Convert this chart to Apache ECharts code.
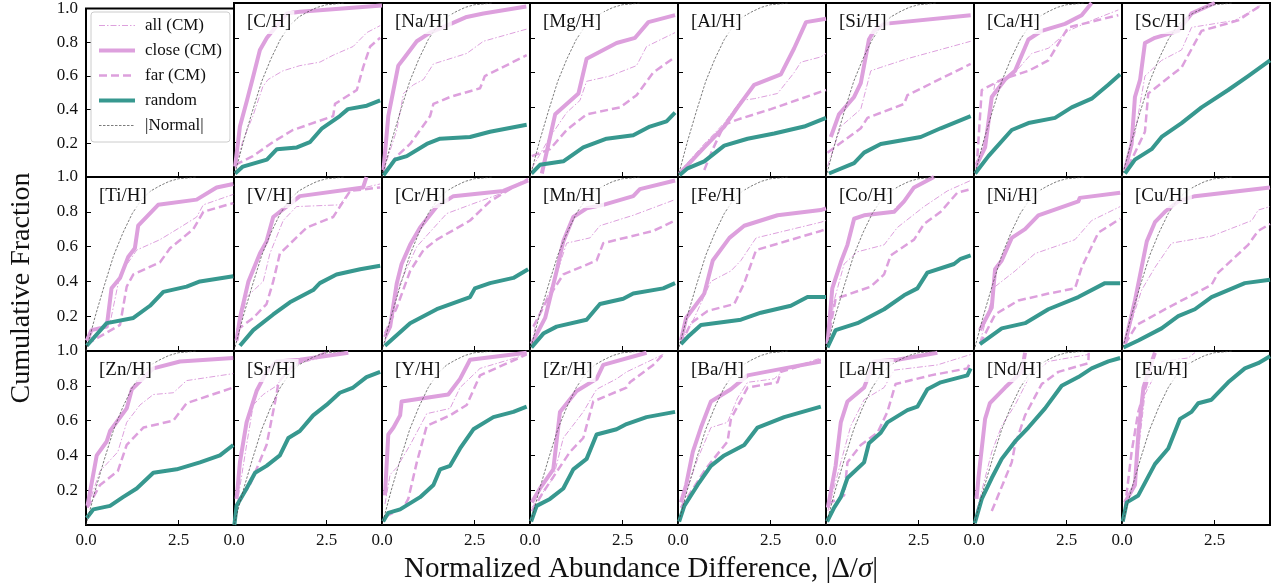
<!DOCTYPE html>
<html><head><meta charset="utf-8">
<script src="https://cdn.jsdelivr.net/npm/echarts@6/dist/echarts.min.js"></script>
<style>html,body{margin:0;padding:0;background:#fff}#c{width:1282px;height:588px}</style>
</head><body><div id="c"></div>
<script>
// ---------- DATA ----------
const ELEMENTS = ['C','Na','Mg','Al','Si','Ca','Sc','Ti','V','Cr','Mn','Fe','Co','Ni','Cu','Zn','Sr','Y','Zr','Ba','La','Nd','Eu'];
const X_TICKS = [0.0, 2.5];
const Y_TICKS = [0.2, 0.4, 0.6, 0.8, 1.0];
const SERIES_NAMES = ['all (CM)', 'close (CM)', 'far (CM)', 'random', '|Normal|'];

// |Normal| reference curve (same in every panel)
const NORMAL = [[0,0],[0.25,0.2],[0.5,0.38],[0.75,0.55],[1.0,0.68],[1.25,0.79],[1.5,0.87],[1.75,0.92],[2.0,0.95],[2.25,0.975],[2.5,0.99],[3.0,1.0]];

// all (CM), one list per element (same order as ELEMENTS)
const ALL_CM = [
 [[0.03,0.05],[0.24,0.21],[0.51,0.35],[0.78,0.52],[0.92,0.56],[1.32,0.61],[1.78,0.64],[2.32,0.66],[2.68,0.70],[3.22,0.75],[3.59,0.83],[3.95,0.87]], // C
 [[0.03,0.03],[0.40,0.27],[0.58,0.48],[0.85,0.53],[1.12,0.56],[1.39,0.65],[2.29,0.71],[2.74,0.78],[3.91,0.85]], // Na
 [[0.05,0.05],[0.54,0.23],[0.99,0.37],[1.35,0.44],[1.53,0.55],[2.16,0.58],[2.88,0.64],[3.15,0.75],[3.92,0.83]], // Mg
 [[0.04,0.03],[0.71,0.19],[1.25,0.31],[1.70,0.44],[2.06,0.45],[2.69,0.48],[3.14,0.60],[3.32,0.66],[3.86,0.69],[4.0,0.71]], // Al
 [[0.04,0.06],[0.40,0.29],[0.94,0.39],[1.21,0.61],[1.48,0.63],[2.20,0.68],[3.91,0.78]], // Si
 [[0.07,0.05],[0.30,0.23],[0.57,0.54],[1.02,0.58],[1.56,0.71],[2.01,0.74],[2.55,0.84],[3.18,0.90],[3.90,0.96]], // Ca
 [[0.08,0.04],[0.35,0.25],[0.62,0.58],[1.07,0.67],[1.61,0.73],[1.88,0.86],[3.05,0.90],[3.78,0.99]], // Sc
 [[0.02,0.06],[0.65,0.16],[0.92,0.44],[1.37,0.58],[2.0,0.64],[2.54,0.71],[2.99,0.77],[3.17,0.84],[3.98,0.90]], // Ti
 [[0.07,0.05],[0.34,0.31],[0.79,0.40],[0.97,0.56],[1.33,0.75],[1.69,0.83],[2.86,0.84],[3.14,0.92],[3.95,0.96]], // V
 [[0.08,0.05],[0.49,0.39],[0.94,0.60],[1.75,0.79],[2.38,0.84],[3.28,0.91],[3.95,0.98]], // Cr
 [[0.04,0.04],[0.18,0.17],[0.72,0.44],[0.99,0.62],[1.62,0.65],[1.89,0.72],[2.79,0.78],[3.92,0.87]], // Mn
 [[0.08,0.05],[0.44,0.19],[0.89,0.40],[1.43,0.46],[1.70,0.52],[2.11,0.65],[3.86,0.74],[4.0,0.75]], // Fe
 [[0.04,0.04],[0.22,0.29],[0.49,0.50],[0.85,0.57],[1.57,0.61],[1.93,0.71],[2.65,0.83],[3.28,0.92],[3.91,0.98]], // Co
 [[0.16,0.05],[0.57,0.37],[1.11,0.46],[1.65,0.56],[2.73,0.64],[3.18,0.75],[3.95,0.83]], // Ni
 [[0.08,0.05],[0.53,0.35],[0.89,0.48],[1.34,0.62],[2.42,0.66],[3.51,0.75],[3.68,0.81],[4.0,0.83]], // Cu
 [[0.04,0.10],[0.38,0.31],[0.86,0.42],[1.10,0.59],[1.46,0.69],[1.82,0.75],[2.36,0.76],[2.72,0.83],[3.98,0.87]], // Zn
 [[0.07,0.10],[0.34,0.46],[0.52,0.69],[0.79,0.75],[1.15,0.80],[1.42,0.88],[1.78,0.93],[2.68,0.98]], // Sr
 [[0.08,0.12],[0.22,0.29],[0.40,0.33],[0.76,0.46],[1.21,0.64],[1.84,0.67],[2.11,0.79],[2.65,0.90],[3.91,0.98]], // Y
 [[0.05,0.10],[0.63,0.27],[0.90,0.50],[1.44,0.65],[1.80,0.78],[2.34,0.84],[2.61,0.88],[3.60,0.98]], // Zr
 [[0.08,0.10],[0.53,0.38],[0.89,0.56],[1.34,0.59],[1.61,0.73],[1.88,0.82],[2.60,0.84],[2.87,0.89],[3.86,0.96]], // Ba
 [[0.05,0.08],[0.40,0.36],[0.67,0.57],[1.03,0.72],[1.57,0.79],[1.84,0.89],[3.01,0.92],[3.91,0.98]], // La
 [[0.07,0.08],[0.48,0.42],[0.75,0.57],[1.11,0.69],[1.47,0.84],[2.01,0.94],[3.09,0.98]], // Nd
 [[0.08,0.10],[0.35,0.27],[0.44,0.42],[0.62,0.75],[1.07,0.94],[1.79,0.96],[1.97,0.99]] // Eu
];

// close (CM)
const CLOSE_CM = [
 [[0.03,0.06],[0.16,0.29],[0.35,0.44],[0.51,0.57],[0.70,0.73],[0.89,0.80],[1.43,0.94],[1.78,0.95],[4.0,0.985]], // C
 [[0.04,0.04],[0.17,0.35],[0.44,0.64],[0.62,0.69],[0.94,0.78],[1.30,0.83],[1.75,0.87],[2.29,0.92],[2.74,0.94],[3.90,0.98]], // Na
 [[0.32,0.02],[0.68,0.36],[1.31,0.48],[1.53,0.68],[2.34,0.77],[2.84,0.80],[3.20,0.89],[3.92,0.93]], // Mg
 [[0.04,0.02],[0.71,0.17],[1.25,0.29],[1.61,0.40],[2.06,0.53],[2.78,0.59],[3.14,0.74],[3.46,0.89],[4.0,0.91]], // Al
 [[0.13,0.23],[0.35,0.36],[0.76,0.46],[0.94,0.54],[1.16,0.79],[1.30,0.84],[1.57,0.88],[3.91,0.93]], // Si
 [[0.07,0.07],[0.30,0.17],[0.48,0.46],[0.84,0.56],[1.11,0.61],[1.47,0.79],[1.83,0.84],[2.46,0.88],[2.91,0.93],[3.18,1.0]], // Ca
 [[0.08,0.04],[0.26,0.19],[0.35,0.46],[0.49,0.56],[0.62,0.77],[0.89,0.80],[1.52,0.84],[1.88,0.94],[2.51,1.0]], // Sc
 [[0.02,0.06],[0.15,0.12],[0.56,0.14],[0.69,0.36],[0.92,0.42],[1.14,0.54],[1.32,0.59],[1.41,0.72],[1.95,0.84],[2.99,0.87],[3.53,0.94],[3.98,0.96]], // Ti
 [[0.07,0.06],[0.16,0.19],[0.39,0.40],[0.70,0.56],[0.88,0.63],[1.06,0.77],[1.42,0.83],[1.78,0.89],[3.49,0.94],[3.58,1.0]], // V
 [[0.08,0.08],[0.22,0.14],[0.40,0.39],[0.53,0.50],[0.76,0.61],[1.03,0.71],[1.48,0.83],[1.93,0.89],[3.28,0.92],[3.95,0.98]], // Cr
 [[0.04,0.04],[0.41,0.19],[0.72,0.46],[0.90,0.63],[1.17,0.77],[1.53,0.82],[1.98,0.84],[2.79,0.89],[2.97,0.93],[3.92,0.98]], // Mn
 [[0.08,0.06],[0.22,0.19],[0.71,0.33],[0.94,0.52],[1.39,0.65],[1.79,0.72],[2.69,0.78],[3.86,0.81],[4.0,0.82]], // Fe
 [[0.04,0.04],[0.17,0.36],[0.40,0.51],[0.58,0.61],[0.76,0.76],[1.03,0.78],[1.84,0.80],[2.11,0.86],[2.38,0.94],[2.92,1.0]], // Co
 [[0.16,0.12],[0.48,0.25],[0.57,0.47],[0.75,0.52],[1.02,0.65],[1.38,0.70],[1.74,0.78],[2.82,0.86],[2.86,0.88],[3.95,0.91]], // Ni
 [[0.08,0.04],[0.35,0.29],[0.67,0.63],[0.89,0.74],[1.16,0.80],[1.52,0.86],[1.97,0.89],[4.0,0.94]], // Cu
 [[0.04,0.11],[0.29,0.40],[0.56,0.48],[0.65,0.54],[1.10,0.67],[1.24,0.78],[1.82,0.90],[2.54,0.94],[3.98,0.96]], // Zn
 [[0.07,0.15],[0.16,0.36],[0.34,0.59],[0.61,0.77],[0.88,0.88],[1.15,0.94],[1.78,0.95],[3.09,0.99]], // Sr
 [[0.08,0.17],[0.17,0.52],[0.31,0.56],[0.49,0.63],[0.53,0.71],[1.79,0.75],[2.11,0.84],[2.38,0.95],[3.91,0.99]], // Y
 [[0.05,0.13],[0.27,0.21],[0.63,0.32],[0.81,0.65],[1.26,0.77],[1.80,0.84],[1.98,0.92],[3.15,0.99]], // Zr
 [[0.08,0.13],[0.22,0.23],[0.40,0.42],[0.62,0.56],[0.89,0.71],[1.43,0.78],[1.88,0.86],[2.87,0.90],[3.86,0.94]], // Ba
 [[0.05,0.10],[0.26,0.34],[0.40,0.59],[0.58,0.71],[1.03,0.79],[1.30,0.94],[1.93,0.95],[3.01,0.99]], // La
 [[0.07,0.15],[0.12,0.27],[0.30,0.61],[0.43,0.70],[0.84,0.79],[1.29,0.88],[1.38,0.99]], // Nd
 [[0.08,0.13],[0.35,0.23],[0.44,0.52],[0.58,0.79],[0.71,0.88],[0.89,0.99]] // Eu
];

// far (CM)
const FAR_CM = [
 [[0.03,0.07],[0.51,0.12],[1.05,0.20],[1.59,0.27],[2.68,0.35],[2.73,0.42],[3.32,0.50],[3.49,0.63],[3.68,0.75],[3.95,0.80]], // C
 [[0.05,0.02],[0.40,0.12],[0.76,0.19],[1.30,0.35],[1.39,0.42],[1.84,0.46],[2.65,0.51],[2.78,0.58],[3.91,0.70]], // Na
 [[0.05,0.12],[0.54,0.16],[0.99,0.27],[1.53,0.36],[2.43,0.40],[2.88,0.47],[3.33,0.60],[3.92,0.69]], // Mg
 [[0.71,0.04],[0.94,0.16],[1.25,0.30],[1.61,0.33],[2.51,0.39],[4.0,0.50]], // Al
 [[0.04,0.14],[0.49,0.21],[0.94,0.28],[1.12,0.34],[2.11,0.42],[2.20,0.47],[3.91,0.65]], // Si
 [[0.07,0.05],[0.21,0.50],[0.75,0.56],[1.47,0.61],[2.01,0.67],[2.46,0.83],[2.55,0.86],[3.90,0.93]], // Ca
 [[0.17,0.06],[0.62,0.26],[0.71,0.48],[1.07,0.54],[1.61,0.63],[2.15,0.84],[3.14,0.90],[3.78,0.99]], // Sc
 [[0.02,0.04],[0.92,0.15],[1.10,0.37],[1.28,0.44],[2.0,0.51],[2.27,0.59],[2.90,0.70],[3.17,0.80],[3.98,0.85]], // Ti
 [[0.07,0.12],[0.52,0.19],[0.88,0.27],[1.06,0.40],[1.24,0.56],[1.97,0.71],[2.68,0.77],[3.14,0.92],[3.95,0.94]], // V
 [[0.08,0.10],[0.40,0.25],[0.76,0.46],[1.12,0.58],[1.48,0.64],[2.38,0.75],[2.92,0.86],[3.46,0.93],[3.95,0.99]], // Cr
 [[0.09,0.14],[0.45,0.29],[0.90,0.44],[1.80,0.52],[1.98,0.62],[3.33,0.69],[3.92,0.75]], // Mn
 [[0.08,0.04],[0.35,0.16],[0.80,0.23],[1.52,0.27],[1.79,0.39],[2.11,0.58],[3.86,0.69],[4.0,0.70]], // Fe
 [[0.04,0.05],[0.26,0.30],[1.21,0.37],[1.57,0.44],[1.75,0.55],[2.38,0.64],[2.65,0.73],[3.10,0.80],[3.55,0.91],[3.91,0.93]], // Co
 [[0.16,0.04],[0.57,0.21],[1.20,0.29],[2.01,0.33],[2.73,0.36],[2.91,0.48],[3.36,0.68],[3.95,0.76]], // Ni
 [[0.08,0.04],[0.40,0.15],[1.25,0.25],[2.42,0.38],[2.60,0.45],[3.41,0.61],[3.68,0.69],[4.0,0.73]], // Cu
 [[0.04,0.10],[0.38,0.23],[0.86,0.31],[1.10,0.46],[1.55,0.56],[2.36,0.60],[2.72,0.70],[3.98,0.79]], // Zn
 [[0.07,0.12],[0.43,0.23],[0.88,0.46],[1.15,0.75],[1.20,0.82],[1.60,0.92],[2.60,1.0]], // Sr
 [[0.10,0.05],[0.58,0.10],[0.71,0.15],[0.94,0.36],[1.21,0.57],[1.84,0.63],[2.29,0.69],[2.65,0.86],[3.91,0.98]], // Y
 [[0.05,0.08],[0.36,0.19],[1.08,0.42],[1.44,0.50],[1.71,0.71],[2.61,0.79],[2.70,0.82],[3.33,0.92],[3.60,0.98]], // Zr
 [[0.08,0.10],[0.71,0.31],[0.89,0.36],[1.34,0.48],[1.43,0.61],[1.88,0.79],[2.69,0.82],[2.78,0.88],[3.86,0.95]], // Ba
 [[0.05,0.12],[0.49,0.17],[0.58,0.36],[0.94,0.46],[1.39,0.53],[1.66,0.65],[1.88,0.81],[2.83,0.86],[3.82,0.90],[3.91,0.94]], // La
 [[0.48,0.08],[1.02,0.36],[1.11,0.46],[1.38,0.63],[1.83,0.81],[2.28,0.88],[3.09,0.93],[3.10,0.99]], // Nd
 [[0.08,0.10],[0.26,0.42],[0.44,0.65],[0.71,0.84],[0.89,0.99]] // Eu
];

// random
const RANDOM = [
 [[0.03,0.02],[0.24,0.06],[0.89,0.10],[1.16,0.16],[1.70,0.17],[2.05,0.20],[2.38,0.28],[2.86,0.35],[3.08,0.39],[3.59,0.41],[3.95,0.44]], // C
 [[0.04,0.01],[0.35,0.10],[0.67,0.12],[1.21,0.19],[1.57,0.22],[2.38,0.23],[2.92,0.26],[3.91,0.30]], // Na
 [[0.04,0.02],[0.27,0.07],[0.90,0.09],[1.44,0.17],[2.07,0.22],[2.79,0.24],[3.24,0.29],[3.69,0.32],[3.92,0.37]], // Mg
 [[0.04,0.01],[0.26,0.05],[0.71,0.09],[1.25,0.18],[1.88,0.22],[2.60,0.25],[3.41,0.29],[4.0,0.34]], // Al
 [[0.08,0.02],[0.76,0.08],[1.03,0.14],[1.48,0.19],[2.02,0.21],[2.56,0.23],[3.10,0.28],[3.91,0.35]], // Si
 [[0.03,0.02],[0.39,0.12],[1.02,0.27],[1.47,0.31],[2.19,0.34],[2.64,0.40],[3.18,0.45],[3.63,0.53],[3.95,0.59]], // Ca
 [[0.08,0.02],[0.35,0.10],[0.80,0.16],[1.07,0.23],[1.61,0.31],[2.15,0.40],[2.87,0.50],[3.41,0.58],[4.0,0.67]], // Sc
 [[0.02,0.03],[0.56,0.16],[1.28,0.19],[1.73,0.26],[2.09,0.34],[2.72,0.37],[3.08,0.40],[3.98,0.43]], // Ti
 [[0.16,0.03],[0.52,0.12],[1.06,0.21],[1.51,0.28],[2.14,0.35],[2.32,0.39],[2.77,0.44],[3.41,0.47],[3.95,0.49]], // V
 [[0.08,0.03],[0.76,0.16],[1.48,0.24],[2.38,0.31],[2.51,0.36],[2.92,0.39],[3.55,0.42],[3.95,0.47]], // Cr
 [[0.04,0.02],[0.36,0.10],[0.72,0.14],[1.53,0.18],[1.89,0.27],[2.52,0.30],[2.79,0.33],[3.60,0.36],[3.92,0.39]], // Mn
 [[0.08,0.04],[0.26,0.08],[0.62,0.15],[1.70,0.18],[2.24,0.22],[3.05,0.26],[3.50,0.31],[4.0,0.31]], // Fe
 [[0.04,0.02],[0.26,0.12],[0.85,0.16],[1.57,0.24],[2.11,0.32],[2.47,0.36],[2.74,0.45],[3.46,0.50],[3.64,0.53],[3.91,0.55]], // Co
 [[0.16,0.04],[0.75,0.13],[1.38,0.16],[2.01,0.24],[2.82,0.31],[3.54,0.39],[3.95,0.39]], // Ni
 [[0.04,0.02],[0.44,0.06],[1.07,0.13],[1.52,0.20],[1.97,0.24],[2.42,0.31],[2.87,0.35],[3.32,0.39],[4.0,0.41]], // Cu
 [[0.02,0.04],[0.20,0.09],[0.65,0.11],[1.0,0.16],[1.37,0.21],[1.82,0.30],[2.45,0.32],[3.08,0.36],[3.62,0.40],[3.98,0.46]], // Zn
 [[0.01,0.0],[0.07,0.11],[0.34,0.21],[0.57,0.30],[0.88,0.34],[1.24,0.40],[1.47,0.50],[1.78,0.54],[2.14,0.63],[2.50,0.69],[2.86,0.76],[3.22,0.79],[3.58,0.85],[3.95,0.88]], // Sr
 [[0.03,0.02],[0.17,0.07],[0.49,0.09],[1.03,0.16],[1.39,0.23],[1.57,0.32],[1.84,0.34],[2.11,0.44],[2.47,0.55],[3.01,0.62],[3.55,0.65],[3.91,0.68]], // Y
 [[0.03,0.02],[0.18,0.11],[0.54,0.15],[0.90,0.21],[1.17,0.32],[1.53,0.38],[1.80,0.52],[2.34,0.55],[2.61,0.58],[3.15,0.62],[3.92,0.65]], // Zr
 [[0.03,0.02],[0.17,0.11],[0.53,0.23],[0.89,0.34],[1.25,0.40],[1.79,0.46],[2.15,0.56],[2.87,0.62],[3.86,0.68]], // Ba
 [[0.03,0.02],[0.22,0.10],[0.40,0.16],[0.58,0.27],[1.03,0.36],[1.16,0.47],[1.48,0.53],[1.66,0.59],[2.20,0.66],[2.47,0.68],[2.74,0.78],[3.10,0.82],[3.82,0.86],[3.91,0.90]], // La
 [[0.02,0.01],[0.21,0.15],[0.48,0.27],[0.75,0.38],[1.11,0.48],[1.47,0.56],[1.92,0.67],[2.37,0.80],[2.82,0.85],[3.18,0.90],[3.63,0.94],[3.95,0.96]], // Nd
 [[0.02,0.02],[0.13,0.13],[0.44,0.17],[0.89,0.35],[1.25,0.44],[1.57,0.61],[1.88,0.65],[2.06,0.70],[2.42,0.72],[2.87,0.82],[3.32,0.90],[3.68,0.93],[4.0,0.97]] // Eu
];

// ---------- LAYOUT / STYLE ----------
const FONT = 'Liberation Serif, DejaVu Serif, serif';
const PINK = '#DDA0DD', TEAL = '#37988F', NORM_C = '#444';
const NCOL = 8, NROW = 3, GL = 86, GT = 3, GW = 148, GH = 174;
const STYLES = [
  {color: PINK, width: 1, type: [6, 2, 1.5, 2]},
  {color: PINK, width: 4, type: 'solid'},
  {color: PINK, width: 2.5, type: [8, 4]},
  {color: TEAL, width: 4, type: 'solid'},
  {color: NORM_C, width: 0.7, type: [2.5, 1.5]}
];

const grids = [], xAxes = [], yAxes = [], series = [], titles = [];
for (let i = 0; i < NCOL * NROW; i++) {
  const r = Math.floor(i / NCOL), c = i % NCOL;
  grids.push({left: GL + c * GW, top: GT + r * GH, width: GW, height: GH,
    show: true, borderColor: '#000', borderWidth: 2, backgroundColor: 'transparent'});
  xAxes.push({type: 'value', gridIndex: i, min: 0, max: 4, interval: 2.5,
    axisLine: {show: false}, splitLine: {show: false},
    axisTick: {show: true, inside: true, length: 5, lineStyle: {color: '#000', width: 1}},
    axisLabel: {show: r === NROW - 1, color: '#111', fontFamily: FONT, fontSize: 17, margin: 7,
      formatter: v => X_TICKS.indexOf(v) >= 0 ? v.toFixed(1) : ''}});
  yAxes.push({type: 'value', gridIndex: i, min: 0, max: 1, interval: 0.2,
    axisLine: {show: false}, splitLine: {show: false},
    axisTick: {show: true, inside: true, length: 5, lineStyle: {color: '#000', width: 1}},
    axisLabel: {show: c === 0, color: '#111', fontFamily: FONT, fontSize: 17, margin: 8,
      formatter: v => Y_TICKS.some(t => Math.abs(t - v) < 1e-9) ? v.toFixed(1) : ''}});
  if (i === 0) continue;
  const e = i - 1;
  const lists = [ALL_CM[e], CLOSE_CM[e], FAR_CM[e], RANDOM[e], NORMAL];
  lists.forEach((d, k) => {
    series.push({type: 'line', name: SERIES_NAMES[k], xAxisIndex: i, yAxisIndex: i,
      data: d, showSymbol: false, symbol: 'none', clip: false, silent: true,
      lineStyle: {color: STYLES[k].color, width: STYLES[k].width, type: STYLES[k].type, join: 'round'},
      itemStyle: {color: STYLES[k].color}});
  });
  titles.push({text: '[' + ELEMENTS[e] + '/H]', left: GL + c * GW + 10, top: GT + r * GH + 8,
    padding: [2, 3], backgroundColor: 'rgba(255,255,255,0.8)',
    textStyle: {fontFamily: FONT, fontSize: 19, fontWeight: 'normal', color: '#111'}});
}

const legendData = SERIES_NAMES.map((n, k) => ({name: n,
  itemStyle: {opacity: 0},
  lineStyle: {color: STYLES[k].color, width: STYLES[k].width, type: STYLES[k].type}}));

const chart = echarts.init(document.getElementById('c'), null, {renderer: 'canvas'});
chart.setOption({
  animation: false,
  grid: grids, xAxis: xAxes, yAxis: yAxes, series: series, title: titles,
  legend: {data: legendData, orient: 'vertical', left: 91, top: 12, itemWidth: 36, itemHeight: 14,
    itemGap: 8, padding: [5, 8, 8, 6], backgroundColor: 'rgba(255,255,255,0.8)',
    itemStyle: {opacity: 0},
    borderColor: '#ccc', borderWidth: 1, borderRadius: 3, selectedMode: false,
    textStyle: {fontFamily: FONT, fontSize: 17, lineHeight: 14, color: '#111', padding: [0, 0, 0, 5]}},
  graphic: [
    {type: 'text', x: 22, y: 288, rotation: Math.PI / 2,
      style: {text: 'Cumulative Fraction', fontFamily: FONT, fontSize: 28, fill: '#111',
        textAlign: 'center', textVerticalAlign: 'middle'}},
    {type: 'text', x: 641, y: 569,
      style: {text: 'Normalized Abundance Difference, |Δ/{i|σ}|', fontFamily: FONT, fontSize: 29, fill: '#111',
        textAlign: 'center', textVerticalAlign: 'middle',
        rich: {i: {fontFamily: FONT, fontSize: 29, fontStyle: 'italic', fill: '#111'}}}}
  ]
});
</script></body></html>
